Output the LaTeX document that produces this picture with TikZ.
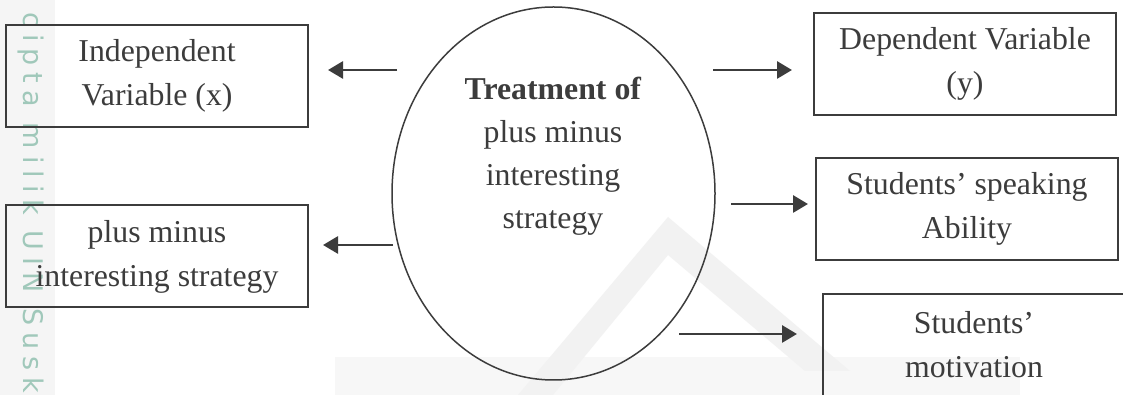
\documentclass[tikz,border=0pt]{standalone}
\usepackage{fontspec}
\setmainfont{Liberation Serif}
\newfontfamily\markfont[LetterSpace=26]{DejaVu Sans}
\usetikzlibrary{arrows.meta,shapes.geometric}

\begin{document}
\begin{tikzpicture}[x=0.5pt,y=0.5pt,
  box/.style={draw=drawColor,line width=1pt,minimum width=151pt,minimum height=51pt,
    inner sep=0pt,align=center,text=textColor,font=\fontsize{15.9}{22}\selectfont},
  oval/.style={draw=drawColor,line width=0.75pt,ellipse,minimum width=161.5pt,
    minimum height=186.5pt,inner sep=0pt},
  arr/.style={draw=drawColor,line width=1.4pt,-{Triangle[length=7.5pt,width=8.5pt]}}]
\definecolor{drawColor}{RGB}{60,60,60}
\definecolor{textColor}{RGB}{60,60,60}
\definecolor{stripColor}{RGB}{245,245,245}
\definecolor{markColor}{RGB}{160,200,186}
\definecolor{logoColor}{RGB}{242,242,242}
\definecolor{bandColor}{RGB}{247,247,247}
\path[use as bounding box,fill=white] (0,0) rectangle (1123,395);

\fill[stripColor] (0,0) rectangle (55,395);

\node[text=markColor,rotate=-90,anchor=base west,inner sep=0pt,
  font=\markfont\fontsize{13.5}{13.5}\selectfont] (mark) at (23,383) {cipta milik UIN Susk};

\fill[bandColor] (335,0) rectangle (1020,38);

\fill[logoColor] (518,0) -- (668,178) -- (850,24) -- (805,24) -- (668,140) -- (553,0) -- cycle;

\node[box] (iv) at (157,319) {Independent\\Variable (x)};

\node[box] (pm) at (157,138.5) {plus minus\\interesting strategy};

\node[oval] (treat) at (553.5,201.5) {};

\node[text=textColor,align=center,inner sep=0pt,font=\fontsize{15.9}{21.5}\selectfont]
  (treatlbl) at (553,239) {\textbf{Treatment of}\\plus minus\\interesting\\strategy};

\node[box] (dv) at (965,331) {Dependent Variable\\(y)};

\node[box] (sa) at (967,186) {Students’ speaking\\Ability};

\node[box] (mo) at (974,50) {Students’\\motivation};

\coordinate (l1) at (397,325);
\coordinate (l2) at (393,150);
\coordinate (r1) at (713,325);
\coordinate (r2) at (731,191);
\coordinate (r3) at (679,61);

\draw[arr,shorten >=9.5pt] (l1) -- (iv.east |- l1);

\draw[arr,shorten >=7pt] (l2) -- (pm.east |- l2);

\draw[arr,shorten >=10.5pt] (r1) -- (dv.west |- r1);

\draw[arr,shorten >=3.5pt] (r2) -- (sa.west |- r2);

\draw[arr,shorten >=12.5pt] (r3) -- (mo.west |- r3);
\end{tikzpicture}
\end{document}
